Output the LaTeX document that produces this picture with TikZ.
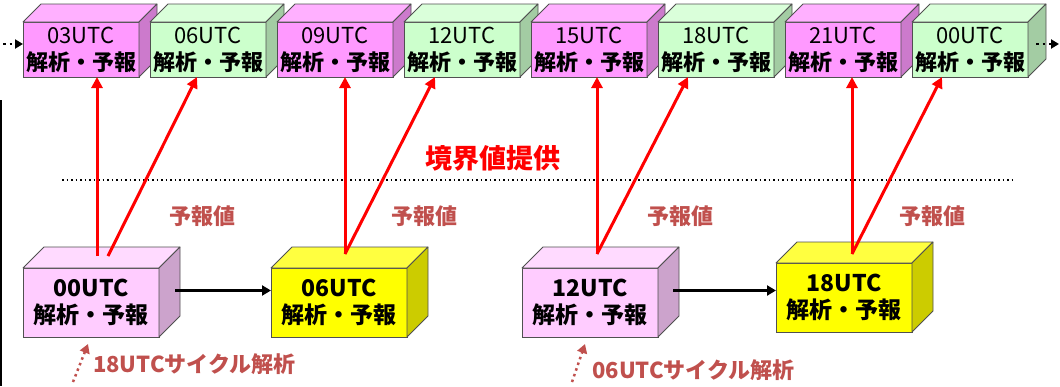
\documentclass[tikz,border=0pt]{standalone}
\usepackage{fontspec}
\newfontfamily\cjk{Noto Sans CJK JP}
\usetikzlibrary{arrows.meta,calc}
\definecolor{edgec}{HTML}{505050}
\definecolor{magF}{HTML}{FF99FF}\definecolor{magT}{HTML}{FFB0FF}\definecolor{magS}{HTML}{CC7ACC}
\definecolor{grnF}{HTML}{CCFFCC}\definecolor{grnT}{HTML}{DAFFDA}\definecolor{grnS}{HTML}{A3CCA3}
\definecolor{pnkF}{HTML}{FFCCFF}\definecolor{pnkT}{HTML}{FFDAFF}\definecolor{pnkS}{HTML}{CCA3CC}
\definecolor{yelF}{HTML}{FFFF00}\definecolor{yelT}{HTML}{FFFF40}\definecolor{yelS}{HTML}{CCCC00}
\definecolor{lblc}{HTML}{C0504D}
\definecolor{redc}{HTML}{FF0000}
\newcommand\mycube[7]{%
  \node[#5, fill=#4F, anchor=north west] (#1) at (#2,#3) {#7};
  \filldraw[face, fill=#4T] (#1.north west) -- ++(#6,-#6) -- ($(#1.north east)+(#6,-#6)$) -- (#1.north east) -- cycle;
  \filldraw[face, fill=#4S] (#1.north east) -- ++(#6,-#6) -- ($(#1.south east)+(#6,-#6)$) -- (#1.south east) -- cycle;
}
\tikzset{
  topbox/.style={draw=edgec, line width=0.8pt, minimum width=116pt, minimum height=55pt, inner sep=0pt, outer sep=0pt, align=center, font=\cjk\fontsize{22}{27}\selectfont},
  botbox/.style={draw=edgec, line width=0.8pt, minimum width=136pt, minimum height=69pt, inner sep=0pt, outer sep=0pt, align=center, font=\cjk\bfseries\fontsize{23}{27}\selectfont},
  face/.style={draw=edgec, line width=0.8pt, line join=round},
  redarrow/.style={draw=redc, line width=3pt, -{Triangle[length=11pt,width=11pt]}},
  blkarrow/.style={draw=black, line width=2.5pt, -{Triangle[length=9pt,width=10pt]}},
  cyclearrow/.style={draw=lblc, line width=2.5pt, dash pattern=on 2.5pt off 3.5pt, -{Triangle[length=9pt,width=10pt]}},
  endarrow/.style={draw=black, line width=2.5pt, dash pattern=on 2.5pt off 4pt, -{Triangle[length=8pt,width=9pt]}},
  lbl/.style={text=lblc, font=\cjk\bfseries\fontsize{22}{26}\selectfont, inner sep=0pt},
}
\begin{document}
\begin{tikzpicture}[x=1pt,y=-1pt]
\useasboundingbox (0,0) rectangle (1060,386);
\fill[black] (0,100) rectangle (2,386);
% top row
\mycube{t1}{23}{22}{mag}{topbox}{18}{03UTC\\\bfseries 解析・予報}
\mycube{t2}{150}{22}{grn}{topbox}{18}{06UTC\\\bfseries 解析・予報}
\mycube{t3}{277}{22}{mag}{topbox}{18}{09UTC\\\bfseries 解析・予報}
\mycube{t4}{404}{22}{grn}{topbox}{18}{12UTC\\\bfseries 解析・予報}
\mycube{t5}{531}{22}{mag}{topbox}{18}{15UTC\\\bfseries 解析・予報}
\mycube{t6}{658}{22}{grn}{topbox}{18}{18UTC\\\bfseries 解析・予報}
\mycube{t7}{785}{22}{mag}{topbox}{18}{21UTC\\\bfseries 解析・予報}
\mycube{t8}{912}{22}{grn}{topbox}{18}{00UTC\\\bfseries 解析・予報}
% side arrows of the row
\coordinate (lin) at (3,44);
\draw[endarrow] (lin) -- (lin -| t1.west);
\coordinate (rout) at ($(t8.east)+(8,6)$);
\coordinate (rend) at (1059,44);
\draw[endarrow] (rout |- rend) -- (rend);
% boundary line and label
\coordinate (dl) at (62,180);
\coordinate (dr) at (1015,180);
\draw[black, line width=1.6pt, dash pattern=on 1.6pt off 2.9pt] (dl) -- (dr);
\node[text=redc, font=\cjk\bfseries\fontsize{27}{30}\selectfont, inner sep=0pt] (bnd) at (493,158) {境界値提供};
% bottom row
\mycube{b1}{23}{268}{pnk}{botbox}{21}{00UTC\\解析・予報}
\mycube{b2}{271}{268}{yel}{botbox}{21}{06UTC\\解析・予報}
\mycube{b3}{522}{268}{pnk}{botbox}{21}{12UTC\\解析・予報}
\mycube{b4}{776}{263}{yel}{botbox}{21}{18UTC\\解析・予報}
% forecast value labels
\node[lbl] (f1) at (202,216) {予報値};
\node[lbl] (f2) at (424,216) {予報値};
\node[lbl] (f3) at (680,216) {予報値};
\node[lbl] (f4) at (932,216) {予報値};
% red arrows
\coordinate (s1a) at (97,256);
\coordinate (s1b) at (108,256);
\coordinate (s2) at (345,254);
\coordinate (s3) at (597,254);
\coordinate (s4) at (852,254);
\draw[redarrow] (s1a) -- (s1a |- t1.south);
\draw[redarrow] (s1b) -- ($(t2.south)+(-11,0)$);
\draw[redarrow] (s2) -- (s2 |- t3.south);
\draw[redarrow] (s2) -- ($(t4.south)+(-27,0)$);
\draw[redarrow] (s3) -- (s3 |- t5.south);
\draw[redarrow] (s3) -- ($(t6.south)+(-28,0)$);
\draw[redarrow] (s4) -- (s4 |- t7.south);
\draw[redarrow] (s4) -- ($(t8.south)+(-28,0)$);
% black arrows
\coordinate (k1) at ($(b1.east)+(16,-12)$);
\draw[blkarrow] (k1) -- (k1 -| b2.west);
\coordinate (k2) at ($(b3.east)+(15,-12)$);
\draw[blkarrow] (k2) -- (k2 -| b4.west);
% cycle labels
\coordinate (c1) at (73,382);
\draw[cyclearrow] (c1) -- ($(b1.south west)+(65,7)$);
\node[lbl, anchor=west] (cy1) at (93,364) {18UTCサイクル解析};
\coordinate (c2) at (572,382);
\draw[cyclearrow] (c2) -- ($(b3.south west)+(63,7)$);
\node[lbl, anchor=west] (cy2) at (592,370) {06UTCサイクル解析};
\end{tikzpicture}
\end{document}
